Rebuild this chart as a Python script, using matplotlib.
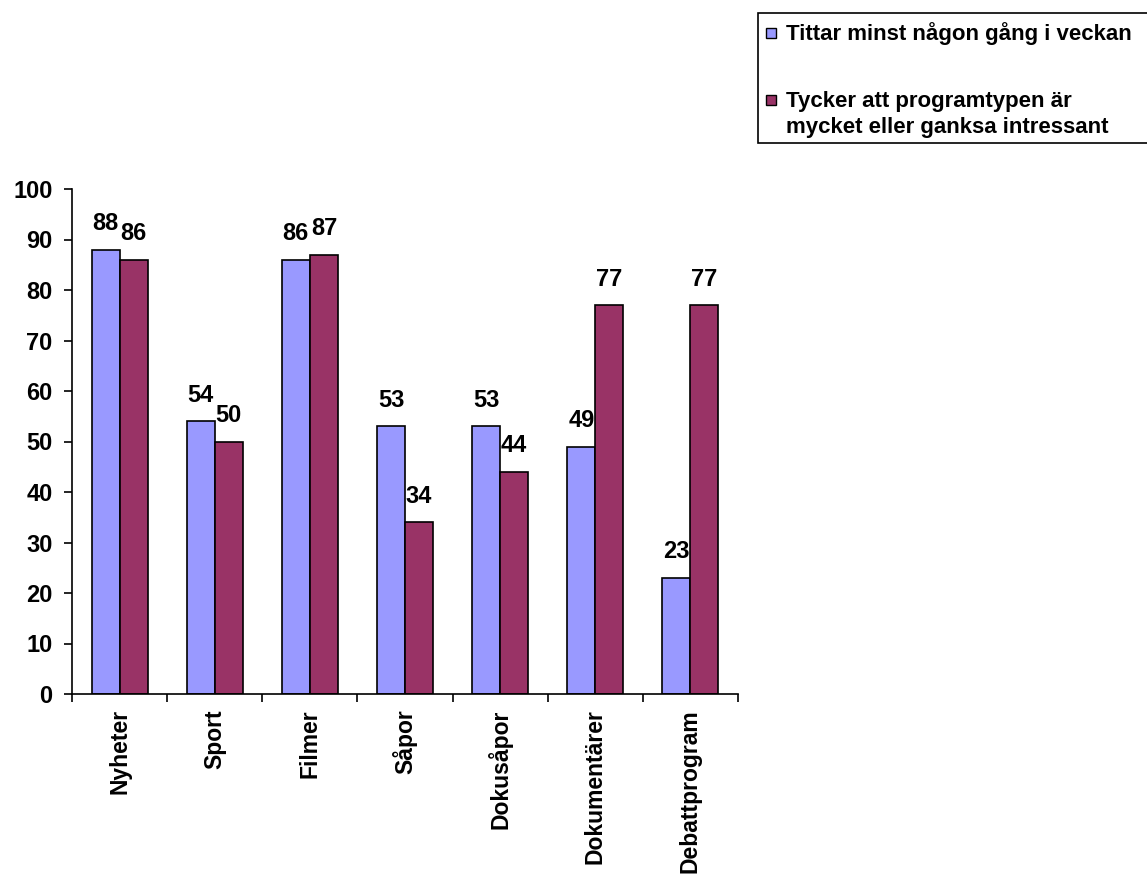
import numpy as np
import matplotlib
matplotlib.use('Agg')
import matplotlib.pyplot as plt
from matplotlib.patches import Rectangle

# data
categories = ['Nyheter', 'Sport', 'Filmer', 'Såpor', 'Dokusåpor', 'Dokumentärer', 'Debattprogram']
tittar = [88, 54, 86, 53, 53, 49, 23]
tycker = [86, 50, 87, 34, 44, 77, 77]
series_names = ['Tittar minst någon gång i veckan',
                'Tycker att programtypen är\nmycket eller ganksa intressant']
yticks = list(range(0, 101, 10))

plt.rcParams['font.family'] = ['Liberation Sans', 'DejaVu Sans']
plt.rcParams['font.weight'] = 'bold'

W, H = 1147, 884
blue = '#9999ff'
red = '#993366'
fs = 17

fig = plt.figure(figsize=(W / 100, H / 100), dpi=100)
ax = fig.add_axes([72 / W, 1 - 694 / H, (738 - 72) / W, (694 - 189) / H])

x = np.arange(len(categories))
w = 0.295
b1 = ax.bar(x - w / 2, tittar, w, color=blue, edgecolor='black', linewidth=1.2)
b2 = ax.bar(x + w / 2, tycker, w, color=red, edgecolor='black', linewidth=1.2)

# value labels above each bar
for rects, vals in [(b1, tittar), (b2, tycker)]:
    for r, v in zip(rects, vals):
        ax.annotate(str(v), (r.get_x() + r.get_width() / 2, v), xytext=(0, 14),
                    textcoords='offset points', ha='center', va='baseline',
                    fontsize=fs, fontweight='bold')

ax.set_xlim(-0.5, len(categories) - 0.5)
ax.set_ylim(0, 100)
ax.set_yticks(yticks)
ax.set_yticklabels([str(t) for t in yticks], fontsize=fs, fontweight='bold')

# category ticks sit between groups, labels at group centers
ax.set_xticks(np.arange(len(categories) + 1) - 0.5)
ax.set_xticklabels([])
ax.set_xticks(x, minor=True)
ax.set_xticklabels(categories, minor=True, rotation=90, fontsize=16.5, fontweight='bold',
                   va='top', ha='center')
ax.tick_params(axis='x', which='minor', length=0, pad=11)
ax.tick_params(axis='x', which='major', direction='out', length=6, width=1.2)
ax.tick_params(axis='y', direction='out', length=6, width=1.2, pad=8)

for s in ['top', 'right']:
    ax.spines[s].set_visible(False)
for s in ['left', 'bottom']:
    ax.spines[s].set_linewidth(1.2)

# legend drawn by hand so the marker lines up with the first text line
def fx(px):
    return px / W

def fy(py):
    return 1 - py / H

fig.patches.append(Rectangle((fx(758), fy(143)), fx(1160) - fx(758), fy(13) - fy(143),
                             transform=fig.transFigure, facecolor='white',
                             edgecolor='black', linewidth=1.2, clip_on=False))
for color, name, base in [(blue, series_names[0], 40), (red, series_names[1], 107)]:
    fig.patches.append(Rectangle((fx(766), fy(base - 2)), fx(10), 10 / H,
                                 transform=fig.transFigure, facecolor=color,
                                 edgecolor='black', linewidth=1.0))
    for i, line in enumerate(name.split('\n')):
        fig.text(fx(786), fy(base + i * 26), line, fontsize=16, fontweight='bold',
                 ha='left', va='baseline')

fig.savefig('out.png', dpi=100)
